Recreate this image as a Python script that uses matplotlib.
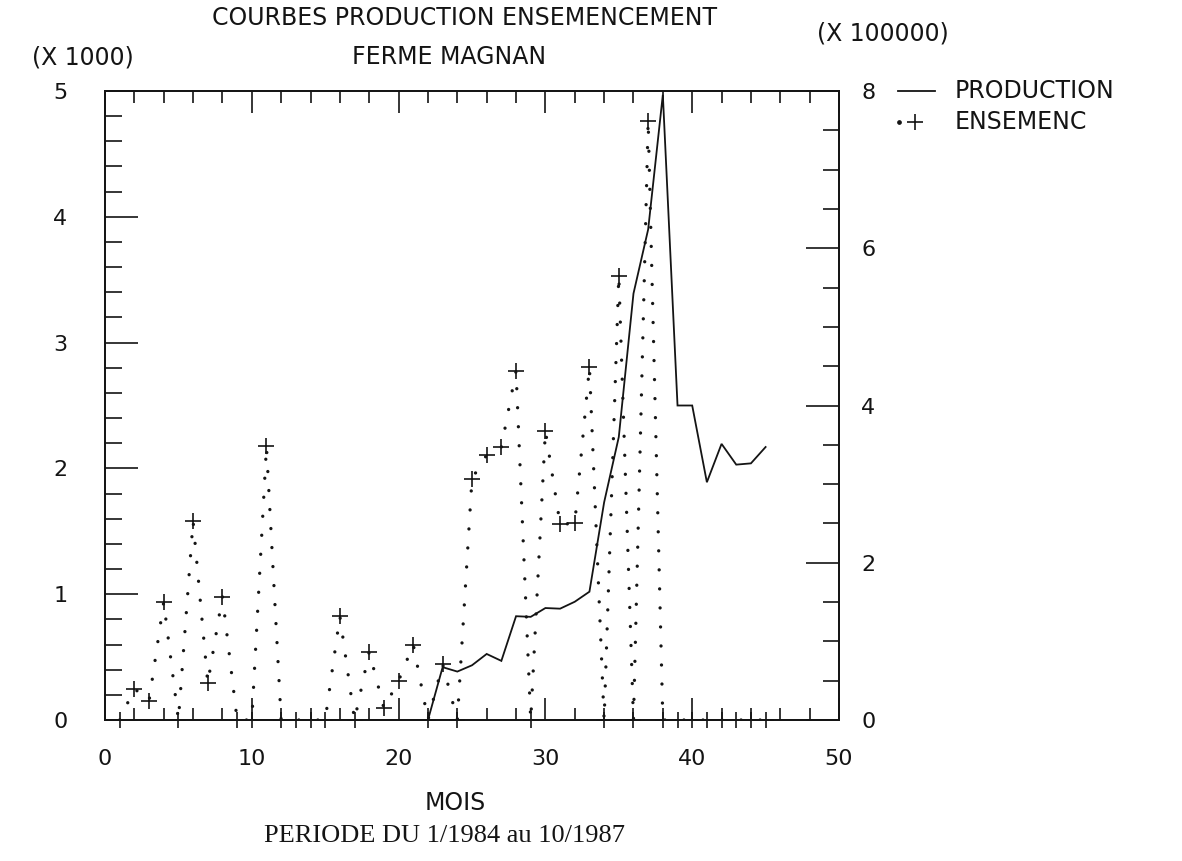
import matplotlib
matplotlib.use('Agg')
import matplotlib.pyplot as plt
from matplotlib.ticker import MultipleLocator
from matplotlib.lines import Line2D

plt.rcParams['font.family'] = ['DejaVu Sans']

# mois 1 a 45 (1/1984 -> 9/1987)
mois = list(range(1, 46))

# production (x 1000)
production = [0, 0, 0, 0, 0, 0, 0, 0, 0, 0,
              0, 0, 0, 0, 0, 0, 0, 0, 0, 0,
              0, 0, 0.42, 0.385, 0.435, 0.525, 0.47, 0.825, 0.82, 0.89,
              0.885, 0.94, 1.02, 1.73, 2.25, 3.39, 3.9, 4.97, 2.5, 2.5,
              1.89, 2.195, 2.03, 2.04, 2.17]

# ensemencement (x 100000)
ensemenc = [0, 0.40, 0.24, 1.50, 0, 2.53, 0.47, 1.57, 0, 0,
            3.48, 0, 0, 0, 0, 1.32, 0, 0.87, 0.15, 0.50,
            0.96, 0, 0.71, 0, 3.07, 3.37, 3.47, 4.44, 0, 3.68,
            2.49, 2.50, 4.49, 0, 5.65, 0, 7.62, 0, 0, 0,
            0, 0, 0, 0, 0]

W, H = 1182, 861
fig = plt.figure(figsize=(W / 100, H / 100), dpi=100)
fig.patch.set_facecolor('white')

# zone du trace en pixels : x 105 -> 839, y 91 -> 720
left, right, top, bottom = 105, 839, 91, 720
ax = fig.add_axes([left / W, 1 - bottom / H, (right - left) / W, (bottom - top) / H])
ax2 = ax.twinx()

ink = '#141414'

ax.plot(mois, production, color=ink, lw=1.3, solid_joinstyle='miter', zorder=3)
ax2.plot(mois, ensemenc, color=ink, lw=2.4, linestyle=(0, (0.01, 5.7)),
         dash_capstyle='round', zorder=3)
ax2.plot(mois, ensemenc, linestyle='none', marker='+', markersize=11,
         markeredgewidth=1.2, color=ink, clip_on=False, zorder=4)

ax.set_xlim(0, 50)
ax.set_ylim(0, 5)
ax2.set_ylim(0, 8)

for a in (ax, ax2):
    for s in a.spines.values():
        s.set_color(ink)
        s.set_linewidth(1.3)

# axe des mois
ax.xaxis.set_major_locator(MultipleLocator(10))
ax.xaxis.set_minor_locator(MultipleLocator(2))
ax.tick_params(axis='x', which='both', direction='in', top=True, bottom=True,
               color=ink, width=1.2, labelsize=16, pad=21, labelcolor=ink)
ax.tick_params(axis='x', which='major', length=16)
ax.tick_params(axis='x', which='minor', length=8.6)

# axe gauche (x 1000)
ax.yaxis.set_major_locator(MultipleLocator(1))
ax.yaxis.set_minor_locator(MultipleLocator(0.2))
ax.tick_params(axis='y', which='both', direction='in', left=True, right=False,
               color=ink, width=1.2, labelsize=16, pad=27, labelcolor=ink)
ax.tick_params(axis='y', which='major', length=24)
ax.tick_params(axis='y', which='minor', length=12)

# axe droit (x 100000)
ax2.yaxis.set_major_locator(MultipleLocator(2))
ax2.yaxis.set_minor_locator(MultipleLocator(0.5))
ax2.tick_params(axis='y', which='both', direction='in', right=True, left=False,
                color=ink, width=1.2, labelsize=16, pad=16, labelcolor=ink)
ax2.tick_params(axis='y', which='major', length=24)
ax2.tick_params(axis='y', which='minor', length=11.5)

# calque en pixels pour les textes et la legende
ov = fig.add_axes([0, 0, 1, 1], facecolor='none')
ov.set_xlim(0, W)
ov.set_ylim(H, 0)
ov.axis('off')

txt = dict(color=ink, fontsize=17, va='center')
ov.text(465, 18, 'COURBES PRODUCTION ENSEMENCEMENT', ha='center', **txt)
ov.text(883, 33, '(X 100000)', ha='center', **txt)
ov.text(83, 57, '(X 1000)', ha='center', **txt)
ov.text(449, 57, 'FERME MAGNAN', ha='center', **txt)
ov.text(455, 803, 'MOIS', ha='center', **txt)
ov.text(445, 836, 'PERIODE DU 1/1984 au 10/1987', ha='center', va='center',
        color=ink, fontsize=19, family='Liberation Serif')

# legende
ov.add_line(Line2D([898, 935], [91, 91], color=ink, lw=1.3))
ov.text(955, 91, 'PRODUCTION', ha='left', **txt)
ov.add_line(Line2D([899], [122], marker='o', markersize=2.4, color=ink, lw=0))
ov.add_line(Line2D([915], [122], marker='+', markersize=11, markeredgewidth=1.2,
                   color=ink, lw=0))
ov.text(955, 122, 'ENSEMENC', ha='left', **txt)

fig.savefig('out.png', dpi=100, facecolor='white')
